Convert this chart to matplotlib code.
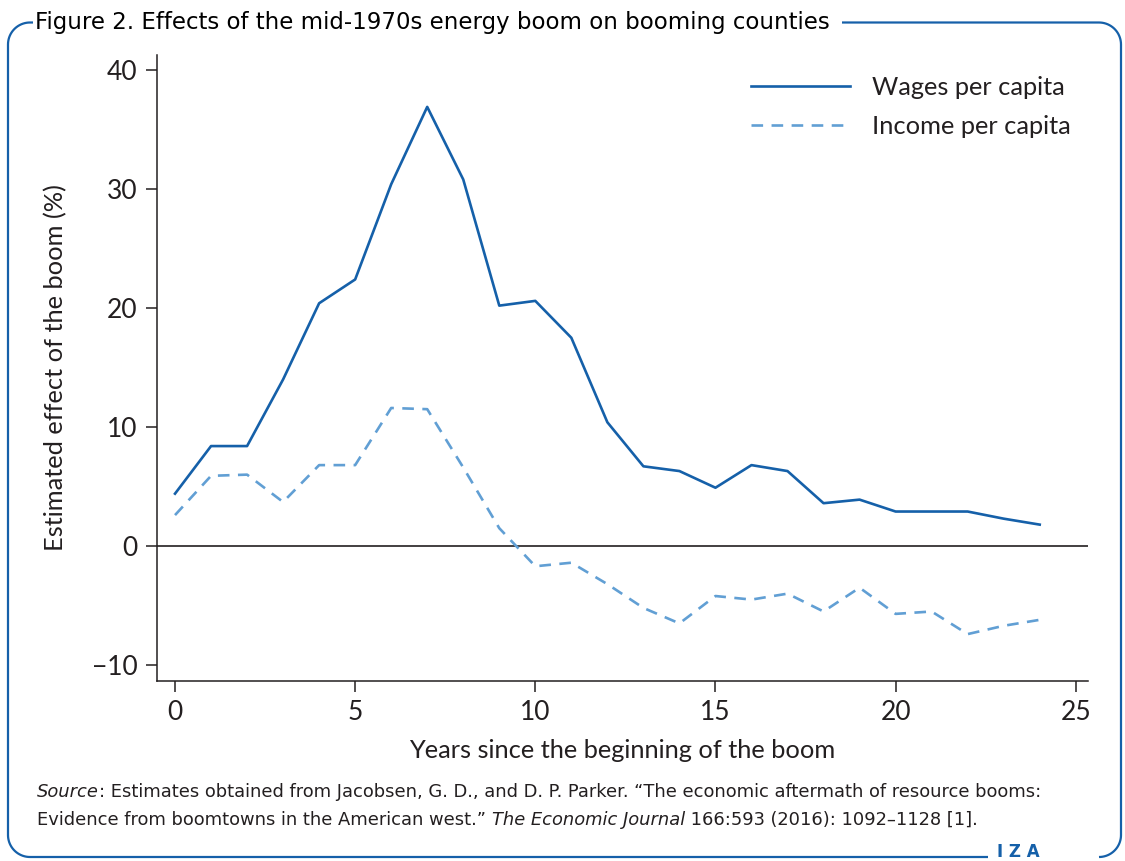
import numpy as np
import matplotlib
matplotlib.use('Agg')
import matplotlib.pyplot as plt

# values
years = list(range(25))
wages = [4.4, 8.4, 8.4, 14.0, 20.4, 22.4, 30.4, 36.9, 30.8, 20.2, 20.6, 17.5, 10.4,
         6.7, 6.3, 4.9, 6.8, 6.3, 3.6, 3.9, 2.9, 2.9, 2.9, 2.3, 1.8]
income = [2.6, 5.9, 6.0, 3.7, 6.8, 6.8, 11.6, 11.5, 6.6, 1.5, -1.7, -1.4, -3.2,
          -5.2, -6.5, -4.2, -4.5, -4.0, -5.5, -3.5, -5.7, -5.5, -7.4, -6.7, -6.2]
series_labels = ['Wages per capita', 'Income per capita']
x_ticks = [0, 5, 10, 15, 20, 25]
y_ticks = [-10, 0, 10, 20, 30, 40]
y_tick_labels = ['\u221210', '0', '10', '20', '30', '40']

title = 'Figure 2. Effects of the mid-1970s energy boom on booming counties'
xlabel = 'Years since the beginning of the boom'
ylabel = 'Estimated effect of the boom (%)'

dark_blue = '#1560a9'
light_blue = '#619fd4'
ink = '#231f20'
narrow = ['Liberation Sans Narrow', 'DejaVu Sans Condensed', 'DejaVu Sans']
plt.rcParams['font.family'] = ['Lato', 'DejaVu Sans']

W, H = 1125, 861
fig = plt.figure(figsize=(W / 100, H / 100), dpi=100)

ax = fig.add_axes([157 / W, 1 - 681 / H, (1088 - 157) / W, (681 - 55) / H])
ax.plot(years, wages, color=dark_blue, lw=1.9, label=series_labels[0])
ax.plot(years, income, color=light_blue, lw=1.9, linestyle=(0, (4.4, 3.2)),
        label=series_labels[1])
ax.axhline(0, color=ink, lw=1.2, zorder=1)

ax.set_xlim(-0.5, 25.34)
ax.set_ylim(-11.34, 41.26)
ax.set_xticks(x_ticks)
ax.set_yticks(y_ticks)
ax.set_yticklabels(y_tick_labels)
for s in ['top', 'right']:
    ax.spines[s].set_visible(False)
for s in ['left', 'bottom']:
    ax.spines[s].set_color(ink)
    ax.spines[s].set_linewidth(1.1)
ax.tick_params(direction='out', length=8, width=1.1, color=ink,
               labelsize=19, labelcolor=ink, pad=6)
ax.set_xlabel(xlabel, fontsize=18.3, color=ink, labelpad=10)
ax.set_ylabel(ylabel, fontsize=18.3, color=ink, labelpad=18)

ax.legend(loc='upper left', bbox_to_anchor=(0.638, 0.966), frameon=False,
          fontsize=18.3, handlelength=3.9, handletextpad=0.85, labelspacing=0.62,
          borderpad=0, borderaxespad=0, labelcolor=ink)

# frame around the figure, drawn in pixel coordinates
over = fig.add_axes([0, 0, 1, 1], zorder=-1)
over.set_xlim(0, W)
over.set_ylim(H, 0)
over.axis('off')

L, R, T, B, r = 8, 1121, 22.5, 857, 22


def arc(cx, cy, a0, a1):
    t = np.radians(np.linspace(a0, a1, 20))
    return cx + r * np.cos(t), cy + r * np.sin(t)


# left piece: top-left corner down and along the bottom
xs, ys = [33], [T]
px, py = arc(L + r, T + r, 270, 180)
xs += list(px); ys += list(py)
px, py = arc(L + r, B - r, 180, 90)
xs += list(px); ys += list(py)
xs += [988]; ys += [B]
over.plot(xs, ys, color=dark_blue, lw=1.6, solid_capstyle='butt')

# right piece: after the title, top-right corner down to bottom-right corner
xs, ys = [842], [T]
px, py = arc(R - r, T + r, 270, 360)
xs += list(px); ys += list(py)
px, py = arc(R - r, B - r, 0, 90)
xs += list(px); ys += list(py)
over.plot(xs, ys, color=dark_blue, lw=1.6, solid_capstyle='butt')

over.text(35, T, title, fontsize=16.5, family=narrow, color='black',
          ha='left', va='center')
over.text(1018, B - 5, 'I Z A', fontsize=12, family=narrow, color=dark_blue,
          ha='center', va='center', fontweight='bold')


def run(parts, x0, y):
    # write a line from pieces, each piece starting where the last one ended
    x = x0
    for txt, st in parts:
        t = fig.text(x / W, 1 - y / H, txt, fontsize=12.9, family=narrow,
                     style=st, color=ink, va='center')
        fig.canvas.draw()
        x = t.get_window_extent().x1


run([('Source', 'italic'),
     (': Estimates obtained from Jacobsen, G. D., and D. P. Parker. '
      '\u201cThe economic aftermath of resource booms:', 'normal')], 37, 792)
run([('Evidence from boomtowns in the American west.\u201d ', 'normal'),
     ('The Economic Journal', 'italic'),
     (' 166:593 (2016): 1092\u20131128 [1].', 'normal')], 37, 820)

fig.savefig('out.png', dpi=100)
